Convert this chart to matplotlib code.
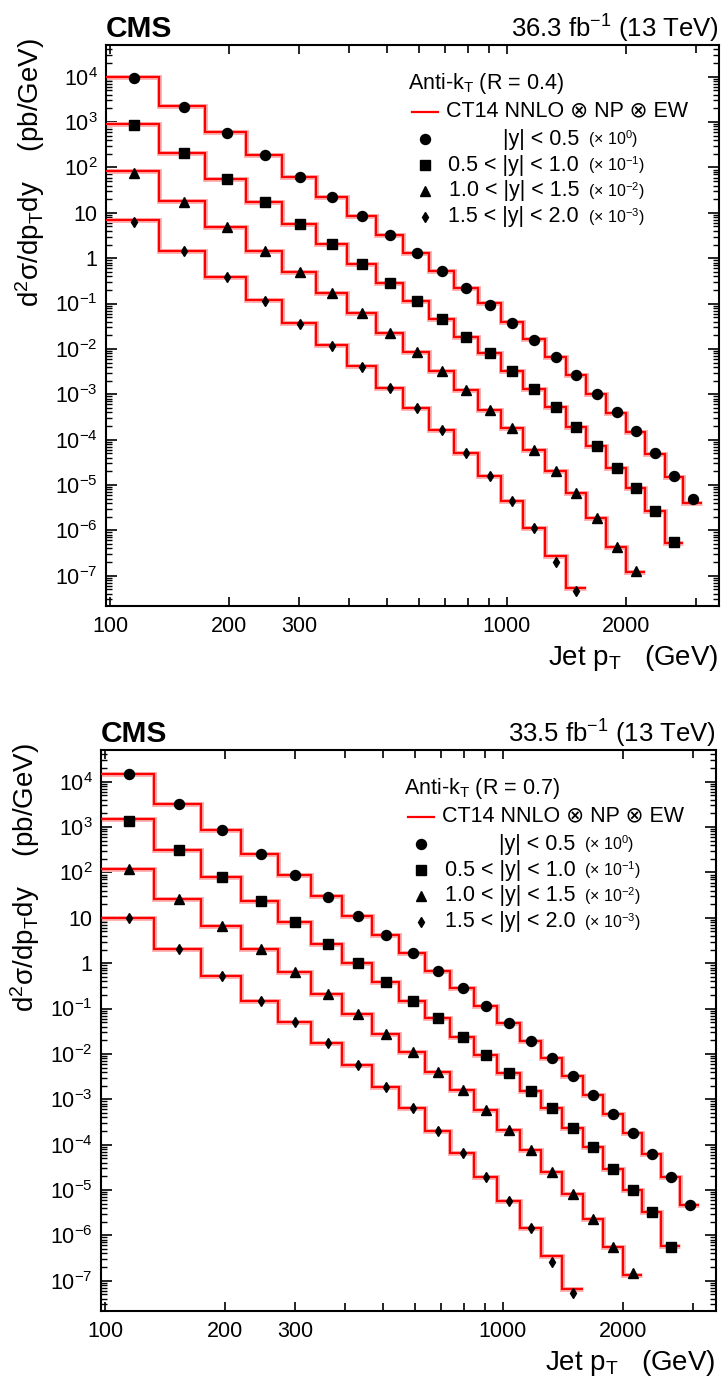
import numpy as np
import matplotlib
matplotlib.use("Agg")
import matplotlib.pyplot as plt
from matplotlib.ticker import FixedLocator, FuncFormatter, NullFormatter

plt.rcParams["font.family"] = ["Liberation Sans", "DejaVu Sans"]
plt.rcParams["mathtext.fontset"] = "custom"
plt.rcParams["mathtext.rm"] = "Liberation Sans"
plt.rcParams["mathtext.it"] = "Liberation Sans:italic"
plt.rcParams["mathtext.bf"] = "Liberation Sans:bold"

# jet pT bin edges (GeV)
PT_EDGES = [97, 133, 174, 220, 272, 330, 395, 468, 548, 638, 737, 846, 967,
            1101, 1248, 1410, 1588, 1784, 2000, 2238, 2500, 2787, 3103]

RAP_LABELS = ["|y| < 0.5", "0.5 < |y| < 1.0", "1.0 < |y| < 1.5", "1.5 < |y| < 2.0"]
SCALE_EXP = [0, -1, -2, -3]

# ---- R = 0.4, measured d2sigma/dpTdy (pb/GeV), unscaled ----
data04_y0 = [9.2e3, 2.15e3, 5.83e2, 1.85e2, 62.5, 22.3, 8.5, 3.30, 1.28, 0.53, 0.221,
             9.27e-2, 3.78e-2, 1.57e-2, 6.5e-3, 2.65e-3, 1.03e-3, 3.99e-4, 1.55e-4,
             5.14e-5, 1.57e-5, 4.8e-6]
data04_y1 = [8.61e3, 2.11e3, 5.65e2, 1.70e2, 57.5, 20.8, 7.43, 2.88, 1.135, 0.455, 0.185,
             7.98e-2, 3.25e-2, 1.28e-2, 5.15e-3, 1.92e-3, 7.33e-4, 2.40e-4, 8.69e-5,
             2.66e-5, 5.45e-6]
data04_y2 = [7.66e3, 1.70e3, 4.78e2, 1.44e2, 48.6, 16.7, 6.07, 2.20, 0.84, 0.325, 0.124,
             4.49e-2, 1.77e-2, 5.89e-3, 2.06e-3, 6.55e-4, 1.84e-4, 4.35e-5, 1.27e-5]
data04_y3 = [6.37e3, 1.44e3, 3.84e2, 1.14e2, 35.9, 11.7, 4.05, 1.39, 0.49, 0.163,
             5.14e-2, 1.57e-2, 4.43e-3, 1.11e-3, 1.97e-4, 4.59e-5]

# ---- R = 0.4, CT14 NNLO x NP x EW prediction ----
theo04_y0 = [1.0e4, 2.30e3, 6.04e2, 1.85e2, 62.5, 22.6, 8.6, 3.30, 1.28, 0.53, 0.221,
             1.01e-1, 3.97e-2, 1.63e-2, 6.5e-3, 2.65e-3, 1.01e-3, 3.91e-4, 1.45e-4,
             4.81e-5, 1.52e-5, 4.1e-6]
theo04_y1 = [9.06e3, 2.11e3, 5.65e2, 1.70e2, 57.5, 20.8, 7.43, 2.88, 1.135, 0.455, 0.185,
             7.98e-2, 3.25e-2, 1.28e-2, 5.15e-3, 1.92e-3, 7.33e-4, 2.40e-4, 8.69e-5,
             2.66e-5, 5.35e-6]
theo04_y2 = [8.47e3, 1.80e3, 4.88e2, 1.47e2, 49.5, 16.7, 6.07, 2.20, 0.84, 0.325, 0.124,
             4.49e-2, 1.77e-2, 5.89e-3, 2.06e-3, 6.55e-4, 1.84e-4, 4.35e-5, 1.20e-5]
theo04_y3 = [6.93e3, 1.47e3, 3.92e2, 1.17e2, 36.5, 11.9, 4.10, 1.40, 0.49, 0.163,
             5.14e-2, 1.57e-2, 4.43e-3, 1.11e-3, 2.69e-4, 5.25e-5]

# ---- R = 0.7, measured ----
data07_y0 = [1.48e4, 3.22e3, 8.61e2, 2.55e2, 86.3, 29.2, 10.9, 4.17, 1.65, 0.68, 0.279,
             0.115, 4.72e-2, 1.95e-2, 7.98e-3, 3.30e-3, 1.24e-3, 4.72e-4, 1.83e-4,
             6.19e-5, 1.96e-5, 4.66e-6]
data07_y1 = [1.38e4, 3.12e3, 8.05e2, 2.34e2, 79.4, 26.4, 9.91, 3.78, 1.46, 0.608, 0.239,
             9.44e-2, 3.72e-2, 1.52e-2, 6.31e-3, 2.36e-3, 8.97e-4, 2.89e-4, 9.95e-5,
             3.31e-5, 5.61e-6]
data07_y2 = [1.19e4, 2.55e3, 6.68e2, 2.02e2, 62.8, 20.9, 7.57, 2.8, 1.08, 0.405, 0.160,
             5.78e-2, 2.09e-2, 7.59e-3, 2.52e-3, 8.13e-4, 2.25e-4, 5.61e-5, 1.45e-5]
data07_y3 = [9.73e3, 2.08e3, 5.28e2, 1.49e2, 50.0, 17.0, 5.6, 1.9, 0.631, 0.202,
             6.43e-2, 1.96e-2, 5.70e-3, 1.43e-3, 2.62e-4, 5.25e-5]

# ---- R = 0.7, prediction ----
theo07_y0 = [1.48e4, 3.22e3, 8.61e2, 2.60e2, 87.0, 29.8, 11.1, 4.17, 1.65, 0.68, 0.279,
             0.115, 4.72e-2, 1.95e-2, 7.98e-3, 3.30e-3, 1.24e-3, 4.72e-4, 1.83e-4,
             6.19e-5, 1.96e-5, 4.66e-6]
theo07_y1 = [1.48e4, 3.12e3, 8.05e2, 2.34e2, 79.4, 26.4, 9.91, 3.78, 1.46, 0.608, 0.239,
             9.44e-2, 3.72e-2, 1.52e-2, 6.31e-3, 2.36e-3, 8.97e-4, 2.89e-4, 9.95e-5,
             3.31e-5, 5.9e-6]
theo07_y2 = [1.22e4, 2.55e3, 6.68e2, 2.02e2, 62.8, 20.9, 7.57, 2.8, 1.08, 0.405, 0.160,
             5.78e-2, 2.09e-2, 7.59e-3, 2.52e-3, 8.13e-4, 2.25e-4, 5.61e-5, 1.36e-5]
theo07_y3 = [9.73e3, 2.08e3, 5.28e2, 1.49e2, 50.0, 17.0, 5.6, 1.9, 0.631, 0.202,
             6.43e-2, 1.96e-2, 5.70e-3, 1.43e-3, 3.47e-4, 6.4e-5]

MARKERS = [("o", 7.2), ("s", 7.0), ("^", 7.8), ("d", 4.6)]
FS_TICK = 15.5
FS_TITLE = 20
FS_LEG = 15.5

YLIM = (2.15e-8, 5.0e4)
Y_DECADES = [10.0 ** k for k in range(-7, 5)]
Y_MINOR = [m * 10.0 ** k for k in range(-8, 5) for m in range(2, 10)
           if YLIM[0] < m * 10.0 ** k < YLIM[1]]


def ytick_fmt(v, pos):
    e = int(round(np.log10(v)))
    if e == 0:
        return "1"
    if e == 1:
        return "10"
    return r"$10^{%d}$" % e


def panel(ax, data, theo, radius, lumi):
    edges = np.array(PT_EDGES, dtype=float)
    for i, (d, t) in enumerate(zip(data, theo)):
        n = len(d)
        sc = 10.0 ** SCALE_EXP[i]
        e = edges[:n + 1]
        t = np.array(t) * sc
        ax.stairs(t, e, baseline=None, color="#ffb3b3", lw=3.6, zorder=2)
        ax.stairs(t, e, baseline=None, color="red", lw=1.6, zorder=3)
        centers = 0.5 * (e[:-1] + e[1:])
        m, ms = MARKERS[i]
        ax.plot(centers, np.array(d) * sc, ls="none", marker=m, ms=ms,
                color="black", zorder=4)

    ax.set_xscale("log")
    ax.set_yscale("log")
    ax.set_xlim(97.7, 3430)
    ax.set_ylim(*YLIM)

    # labelled ticks at 100, 200, 300, 1000, 2000; unlabelled minor ticks elsewhere
    ax.xaxis.set_major_locator(FixedLocator([100, 200, 300, 1000, 2000]))
    ax.xaxis.set_minor_locator(FixedLocator([400, 500, 600, 700, 800, 900, 3000]))
    ax.xaxis.set_major_formatter(FuncFormatter(lambda v, p: "%d" % round(v)))
    ax.xaxis.set_minor_formatter(NullFormatter())
    ax.yaxis.set_major_locator(FixedLocator(Y_DECADES))
    ax.yaxis.set_minor_locator(FixedLocator(Y_MINOR))
    ax.yaxis.set_major_formatter(FuncFormatter(ytick_fmt))
    ax.yaxis.set_minor_formatter(NullFormatter())

    ax.tick_params(which="both", direction="in", top=True, right=True)
    ax.tick_params(axis="y", which="major", length=8, width=1.2, labelsize=FS_TICK, pad=6)
    ax.tick_params(axis="y", which="minor", length=4.5, width=1.0)
    ax.tick_params(axis="x", which="major", length=6.5, width=1.2, labelsize=FS_TICK, pad=7)
    ax.tick_params(axis="x", which="minor", length=5.5, width=1.2)
    for s in ax.spines.values():
        s.set_linewidth(1.5)

    # titles
    ax.text(0.0, 1.014, "CMS", transform=ax.transAxes, ha="left", va="baseline",
            fontsize=21.5, fontweight="bold")
    ax.text(1.0, 1.014, lumi + r" fb$^{-1}$ (13 TeV)", transform=ax.transAxes,
            ha="right", va="baseline", fontsize=18.5)
    ax.text(1.0, -0.105, r"Jet p$_{\rm T}$   (GeV)", transform=ax.transAxes,
            ha="right", va="baseline", fontsize=FS_TITLE)
    ax.text(-0.124, 1.0125, r"d$^{2}$σ/dp$_{\rm T}$dy    (pb/GeV)", transform=ax.transAxes,
            ha="center", va="top", rotation=90, fontsize=FS_TITLE)

    # legend
    ax.text(0.4927, 0.932, r"Anti-k$_{\rm T}$ (R = %s)" % radius, transform=ax.transAxes,
            ha="left", va="center", fontsize=FS_LEG)
    ax.plot([0.4987, 0.5421], [0.881, 0.881], color="red", lw=1.6,
            transform=ax.transAxes)
    ax.text(0.554, 0.883, "CT14 NNLO ⊗ NP ⊗ EW", transform=ax.transAxes,
            ha="left", va="center", fontsize=FS_LEG)
    leg_y = [0.832, 0.786, 0.740, 0.694]
    for i, yy in enumerate(leg_y):
        m, ms = MARKERS[i]
        ax.plot([0.520], [yy], ls="none", marker=m, ms=ms, color="black",
                transform=ax.transAxes)
        ax.text(0.7716, yy, RAP_LABELS[i], transform=ax.transAxes,
                ha="right", va="center", fontsize=FS_LEG)
        ax.text(0.786, yy, r"($\times$ 10$^{%d}$)" % SCALE_EXP[i], transform=ax.transAxes,
                ha="left", va="center", fontsize=11.5)


fig = plt.figure(figsize=(7.23, 13.81), dpi=100)
ax1 = fig.add_axes([0.1466, 0.5612, 0.8479, 0.4062])
ax2 = fig.add_axes([0.1397, 0.0507, 0.8506, 0.4062])

panel(ax1, [data04_y0, data04_y1, data04_y2, data04_y3],
      [theo04_y0, theo04_y1, theo04_y2, theo04_y3], "0.4", "36.3")
panel(ax2, [data07_y0, data07_y1, data07_y2, data07_y3],
      [theo07_y0, theo07_y1, theo07_y2, theo07_y3], "0.7", "33.5")

fig.savefig("out.png", dpi=100, facecolor="white")
